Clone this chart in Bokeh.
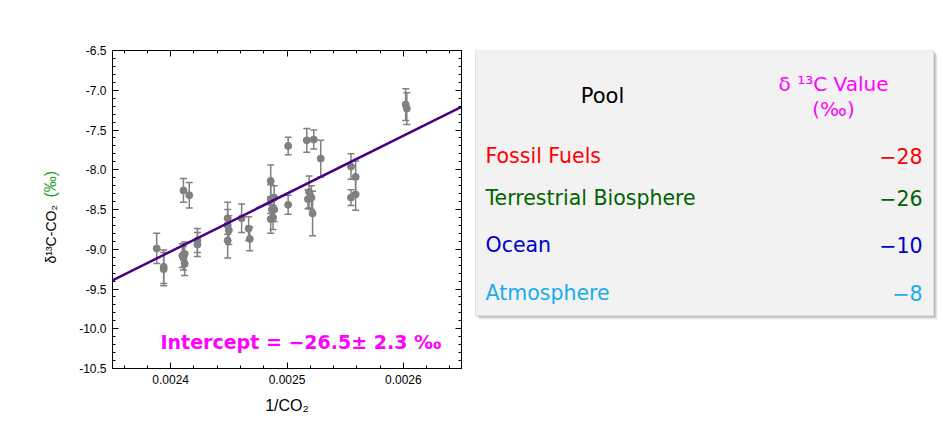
import numpy as np
from bokeh.plotting import figure
from bokeh.models import (ColumnDataSource, Whisker, TeeHead, LinearAxis, SingleIntervalTicker,
                          PrintfTickFormatter, CustomJSTickFormatter, Label, Range1d)
from bokeh.layouts import row
from bokeh.embed import file_html
from bokeh.resources import INLINE
from bokeh.core.properties import value

# ---------------- data ----------------
inv_co2 = [0.002388, 0.002394, 0.002394, 0.002410, 0.002412, 0.002411, 0.002412, 0.002411,
           0.002416, 0.002423, 0.002423, 0.002449, 0.002449, 0.002450, 0.002449, 0.002461,
           0.002467, 0.002468, 0.002486, 0.002489, 0.002486, 0.002487, 0.002489, 0.002486,
           0.002488, 0.002501, 0.002501, 0.002517, 0.002523, 0.002529, 0.002518, 0.002521,
           0.002519, 0.002522, 0.002555, 0.002559, 0.002555, 0.002559, 0.002602, 0.002603]
d13c = [-8.99, -9.22, -9.25, -9.08, -9.06, -9.11, -9.18, -8.26,
        -8.32, -8.94, -8.89, -8.61, -8.70, -8.76, -8.89, -8.61,
        -8.74, -8.87, -8.14, -8.35, -8.37, -8.50, -8.50, -8.62,
        -8.60, -7.70, -8.44, -7.63, -7.62, -7.86, -8.37, -8.35,
        -8.28, -8.55, -7.96, -8.09, -8.35, -8.31, -7.18, -7.23]
d13c_err = [0.19, 0.21, 0.21, 0.15, 0.15, 0.15, 0.15, 0.15,
            0.16, 0.15, 0.15, 0.20, 0.20, 0.18, 0.22, 0.18,
            0.15, 0.15, 0.20, 0.15, 0.18, 0.15, 0.15, 0.18,
            0.15, 0.11, 0.12, 0.15, 0.12, 0.23, 0.12, 0.15,
            0.20, 0.28, 0.16, 0.20, 0.10, 0.20, 0.20, 0.20]

fit_intercept = -26.5
fit_slope = 7280.0

x_limits = [0.00235, 0.00265]
y_limits = [-10.5, -6.5]

y_label_parts = ["\u03b4\u00b9\u00b3C-CO\u2082", "(\u2030)"]
y_label_colors = ["black", "#1E9B1E"]
y_label_sizes = ["14px", "16px"]

pools = ["Fossil Fuels", "Terrestrial Biosphere", "Ocean", "Atmosphere"]
pool_values = ["\u221228", "\u221226", "\u221210", "\u22128"]
pool_colors = ["#FF0000", "#006400", "#0000C8", "#18ADEB"]

TOP, FH, BOT = 50, 318, 78


def blank_fig(fw, xr, yr):
    f = figure(frame_width=fw, frame_height=FH, min_border_top=TOP, min_border_bottom=BOT,
               min_border_left=0, min_border_right=0, x_range=xr, y_range=yr,
               x_axis_location=None, y_axis_location=None,
               output_backend="svg", toolbar_location=None)
    f.grid.visible = False
    f.outline_line_color = None
    f.background_fill_color = "white"
    f.border_fill_color = "white"
    return f


# ---------------- y-axis title panel ----------------
yl = blank_fig(70, Range1d(0, 70), Range1d(0, FH))
ysrc = ColumnDataSource(dict(x=[50, 50], y=[105, 171], text=y_label_parts,
                             col=y_label_colors, size=y_label_sizes))
yl.text(x="x", y="y", text="text", text_color="col", text_font_size="size", source=ysrc,
        angle=np.pi / 2, text_font=value("Liberation Sans"),
        text_align="left", text_baseline="middle")

# ---------------- scatter figure ----------------
p = figure(frame_width=349, frame_height=FH, min_border_left=42, min_border_top=TOP,
           min_border_bottom=BOT, min_border_right=9,
           x_range=Range1d(*x_limits), y_range=Range1d(*y_limits),
           output_backend="svg", toolbar_location=None)
p.grid.visible = False
p.outline_line_color = "black"
p.background_fill_color = "white"
p.border_fill_color = "white"

xt = SingleIntervalTicker(interval=0.0001, num_minor_ticks=5)
yt = SingleIntervalTicker(interval=0.5, num_minor_ticks=5)

for ax, tk, fmt in [(p.xaxis[0], xt, "%.4f"), (p.yaxis[0], yt, "%.1f")]:
    ax.ticker = tk
    ax.formatter = PrintfTickFormatter(format=fmt)
    ax.major_tick_in = 6
    ax.major_tick_out = 0
    ax.minor_tick_in = 3
    ax.minor_tick_out = 0
    ax.major_label_standoff = 6
    ax.major_label_text_font = "Liberation Sans"
    ax.major_label_text_font_size = "12px"
    ax.major_label_text_color = "black"
    ax.axis_line_color = "black"

p.xaxis[0].axis_label = "1/CO\u2082"
p.xaxis[0].axis_label_text_font = "Liberation Sans"
p.xaxis[0].axis_label_text_font_size = "16px"
p.xaxis[0].axis_label_text_font_style = "normal"
p.xaxis[0].axis_label_text_color = "black"
p.xaxis[0].axis_label_standoff = 10

for loc, tk in [("above", xt), ("right", yt)]:
    ax = LinearAxis(ticker=tk, formatter=CustomJSTickFormatter(code="return ''"),
                    major_tick_in=6, major_tick_out=0, minor_tick_in=3, minor_tick_out=0,
                    major_label_text_font_size="0px", major_label_standoff=0)
    p.add_layout(ax, loc)

src = ColumnDataSource(dict(
    x=inv_co2, y=d13c,
    lo=[v - e for v, e in zip(d13c, d13c_err)],
    hi=[v + e for v, e in zip(d13c, d13c_err)],
))
p.add_layout(Whisker(source=src, base="x", lower="lo", upper="hi", dimension="height",
                     line_color="#808080", line_width=1.5,
                     upper_head=TeeHead(size=7, line_color="#808080", line_width=1.5),
                     lower_head=TeeHead(size=7, line_color="#808080", line_width=1.5)))
p.scatter("x", "y", source=src, size=7, marker="circle", fill_color="#808080",
          line_color="#808080")

fx = np.array(x_limits)
p.line(fx, fit_intercept + fit_slope * fx, line_color="#4B0082", line_width=2.5)

p.add_layout(Label(x=48, y=27, x_units="screen", y_units="screen",
                   text="Intercept = \u221226.5\u00b1 2.3 \u2030",
                   text_font="DejaVu Sans", text_font_style="bold", text_font_size="19px",
                   text_color="#FF00FF", text_align="left", text_baseline="alphabetic"))

# ---------------- table figure ----------------
t = blank_fig(473, Range1d(0, 473), Range1d(TOP + FH, TOP))

for off, a in [(4, 0.12), (3, 0.18), (2, 0.25), (1, 0.3)]:
    t.quad(left=5 + off, right=463 + off, top=50 + off, bottom=315 + off,
           fill_color="#7f7f7f", fill_alpha=a, line_color=None)
t.quad(left=5, right=463, top=50, bottom=315, fill_color="#F2F2F2",
       line_color="#E0E0E0", line_width=1)

t.text(x=[132], y=[95], text=["Pool"], text_font=value("DejaVu Sans"),
       text_font_size=value("21px"), text_color="black", text_align="center",
       text_baseline="middle")
t.text(x=[363, 363], y=[83, 108], text=["\u03b4 \u00b9\u00b3C Value", "(\u2030)"],
       text_font=value("DejaVu Sans"), text_font_size=value("20px"), text_color="#FF00FF",
       text_align="center", text_baseline="middle")

row_y = [155, 197, 244, 292]
tsrc = ColumnDataSource(dict(y=row_y, name=pools, val=pool_values, col=pool_colors,
                             xl=[15] * len(pools), xr=[452] * len(pools)))
t.text(x="xl", y="y", text="name", text_color="col", source=tsrc,
       text_font=value("DejaVu Sans"), text_font_size=value("20.5px"),
       text_align="left", text_baseline="middle")
t.text(x="xr", y="y", text="val", text_color="col", source=tsrc,
       text_font=value("DejaVu Sans"), text_font_size=value("20.5px"),
       text_align="right", text_baseline="middle")

layout = row(yl, p, t, spacing=0)
open("out.html", "w").write(file_html(layout, INLINE))
